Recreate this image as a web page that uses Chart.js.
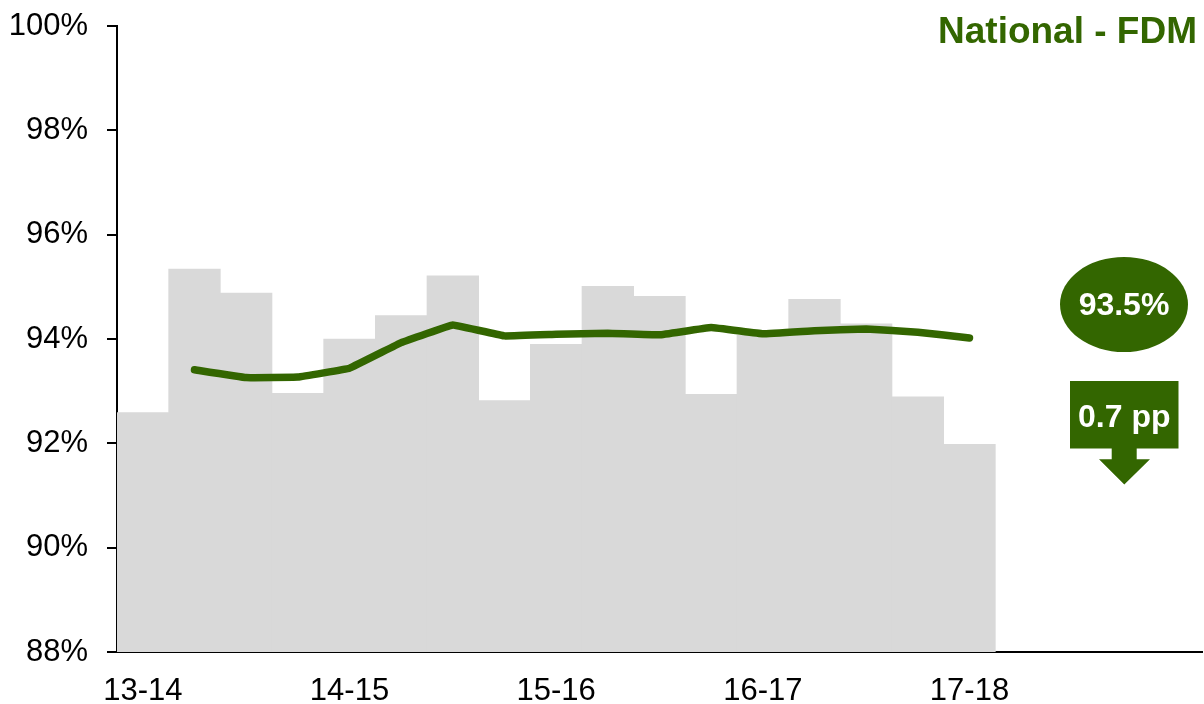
<!DOCTYPE html>
<html>
<head>
<meta charset="utf-8">
<script src="https://cdn.jsdelivr.net/npm/chart.js@4"></script>
<style>
  html, body { margin: 0; padding: 0; background: #ffffff; }
  #wrap { position: relative; width: 1204px; height: 704px; overflow: hidden; font-family: "Liberation Sans", Arial, sans-serif; }
  #c { position: absolute; left: 0; top: 0; }
  #title { position: absolute; right: 7px; top: 12px; font-size: 37px; line-height: 37px; font-weight: bold; color: #336600; white-space: nowrap; }
  #ellipse { position: absolute; left: 1060px; top: 257px; width: 128px; height: 95px; border-radius: 50%; background: #336600; color: #fff; font-weight: bold; font-size: 32px; display: flex; align-items: center; justify-content: center; }
  #arrow { position: absolute; left: 1070px; top: 381px; width: 109px; height: 104px; background: #336600;
    clip-path: polygon(0px 0px, 108.5px 0px, 108.5px 67.5px, 66.7px 67.5px, 66.7px 78.3px, 80px 78.3px, 54.3px 103.5px, 29px 78.3px, 41.7px 78.3px, 41.7px 67.5px, 0px 67.5px); }
  #arrowText { position: absolute; left: 1070px; top: 381px; width: 108.5px; height: 67.5px; color: #fff; font-weight: bold; font-size: 32px; display: flex; align-items: center; justify-content: center; padding-top: 4px; box-sizing: border-box; }
</style>
</head>
<body>
<div id="wrap">
  <canvas id="c" width="1204" height="704"></canvas>
  <div id="title">National - FDM</div>
  <div id="ellipse"><span id="ellipseText">93.5%</span></div>
  <div id="arrow"></div>
  <div id="arrowText">0.7 pp</div>
</div>
<script>
// Quarterly slots (21 categories); only every 4th carries a tick label
const tickLabels = ["13-14", "", "", "", "14-15", "", "", "", "15-16", "", "", "", "16-17", "", "", "", "17-18", "", "", "", ""];

// Quarterly values (grey bars), %
const quarterValues = [92.59, 95.34, 94.88, 92.96, 94.0, 94.45, 95.21, 92.82, 93.9, 95.01, 94.82, 92.94, 94.07, 94.76, 94.29, 92.89, 91.98];

// Rolling value (green line), %
const rollingValues = [null, 93.41, 93.26, 93.27, 93.44, 93.93, 94.27, 94.06, 94.09, 94.11, 94.08, 94.22, 94.1, 94.16, 94.19, 94.13, 94.02];

// Y axis range and step, %
const yMin = 88;
const yMax = 100;
const yStep = 2;

const barData = tickLabels.map((_, i) => (i < quarterValues.length ? quarterValues[i] : null));
const lineData = tickLabels.map((_, i) => (i < rollingValues.length ? rollingValues[i] : null));

const GREEN = '#336600';
const FONT = "'Liberation Sans', Arial, sans-serif";

new Chart(document.getElementById('c'), {
  type: 'bar',
  data: {
    labels: tickLabels,
    datasets: [
      {
        type: 'line',
        data: lineData,
        borderColor: GREEN,
        backgroundColor: GREEN,
        borderWidth: 7.5,
        pointRadius: 0,
        pointHoverRadius: 0,
        tension: 0.05,
        borderCapStyle: 'round',
        borderJoinStyle: 'round',
        spanGaps: false,
        order: 0
      },
      {
        type: 'bar',
        data: barData,
        backgroundColor: '#d9d9d9',
        borderWidth: 0,
        barPercentage: 1.0,
        categoryPercentage: 1.0,
        order: 1
      }
    ]
  },
  options: {
    responsive: false,
    animation: false,
    devicePixelRatio: 1,
    layout: { padding: { left: 0, right: 2, top: 26, bottom: 0 } },
    plugins: {
      legend: { display: false },
      tooltip: { enabled: false },
      title: { display: false }
    },
    scales: {
      x: {
        offset: true,
        grid: { display: false, drawTicks: false },
        border: { display: true, color: '#000000', width: 2 },
        ticks: {
          autoSkip: false,
          maxRotation: 0,
          minRotation: 0,
          padding: 21,
          color: '#000000',
          font: { family: FONT, size: 31 }
        },
        afterFit: (scale) => { scale.height = 52; scale.paddingLeft = 0; scale.paddingRight = 0; }
      },
      y: {
        min: yMin,
        max: yMax,
        grid: { display: true, drawOnChartArea: false, drawTicks: true, tickLength: 10, color: '#000000', lineWidth: 2 },
        border: { display: true, color: '#000000', width: 2 },
        ticks: {
          stepSize: yStep,
          padding: 19,
          color: '#000000',
          font: { family: FONT, size: 31 },
          callback: (v) => v + '%'
        },
        afterFit: (scale) => { scale.width = 117; scale.paddingTop = 0; scale.paddingBottom = 0; }
      }
    }
  }
});
</script>
</body>
</html>
